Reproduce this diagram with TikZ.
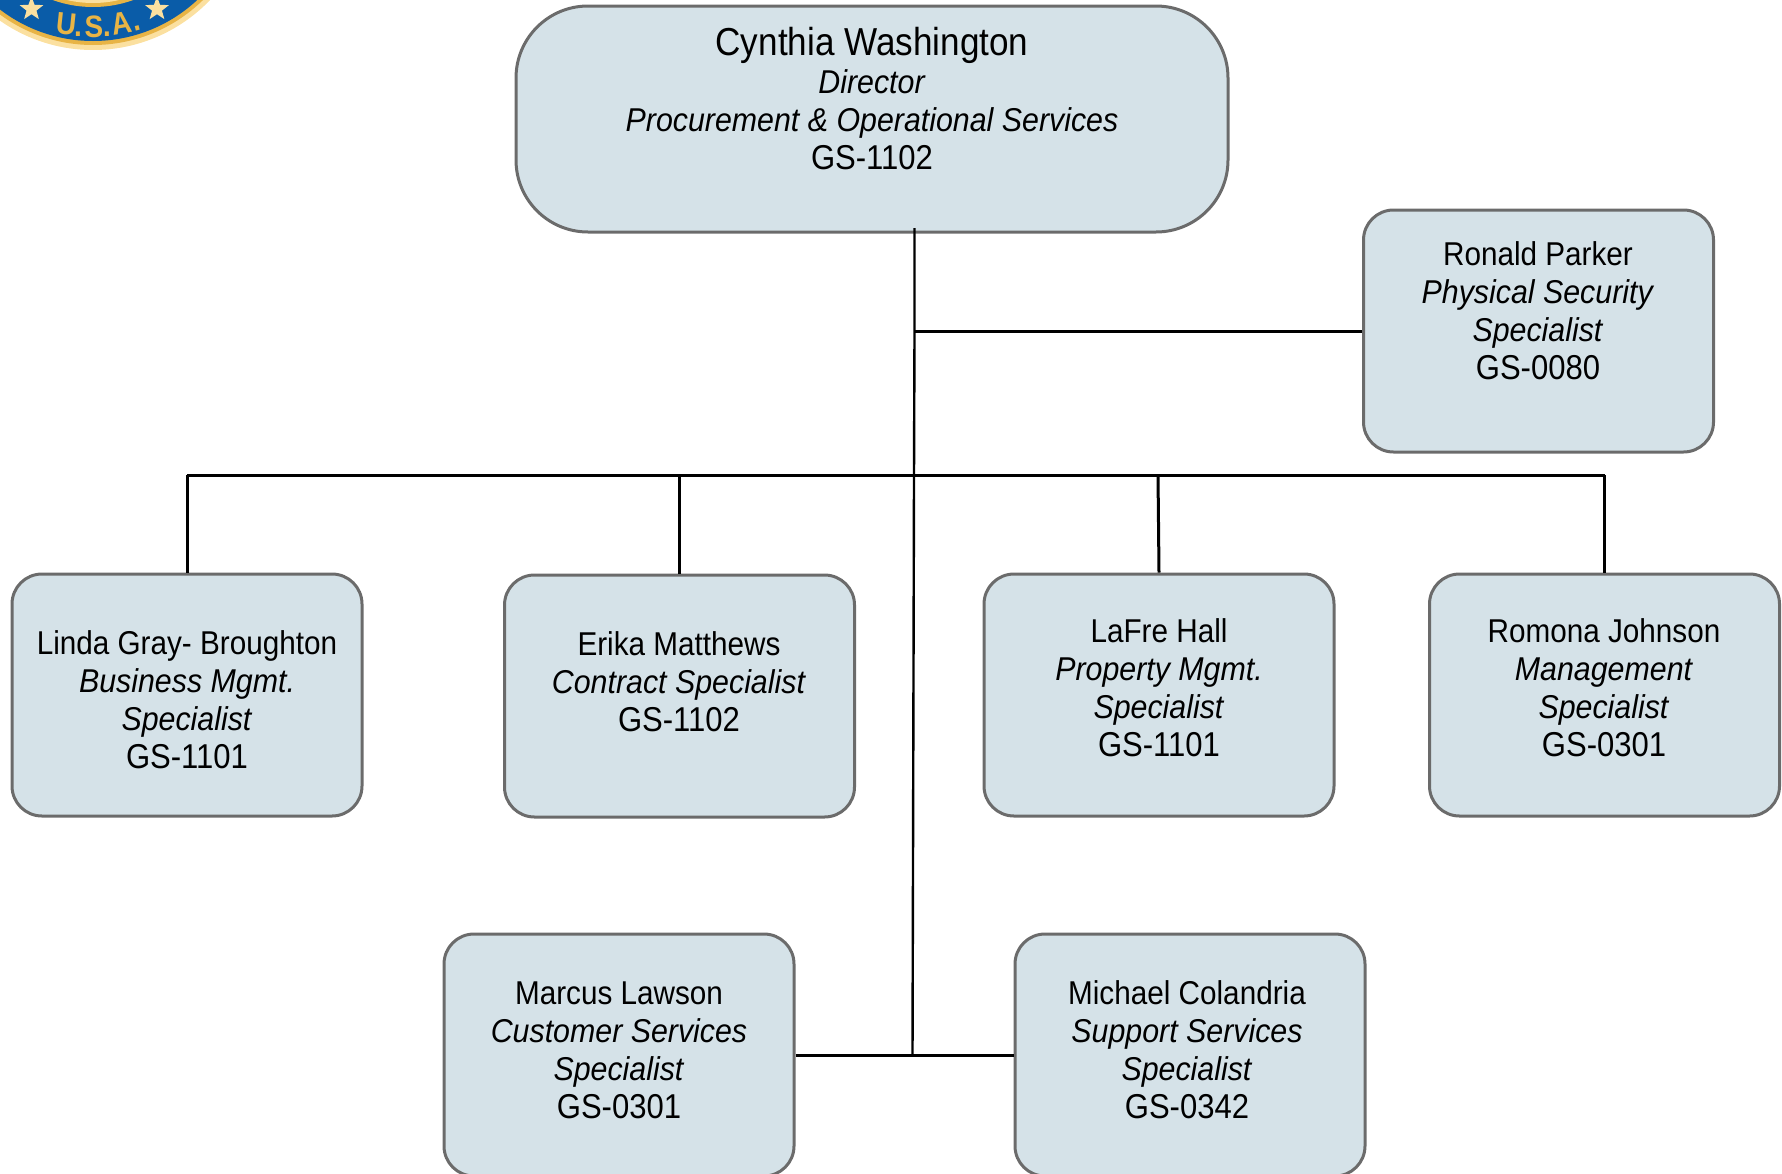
\documentclass[tikz,border=0pt]{standalone}
\usepackage{fontspec}
\setmainfont{Liberation Sans}[FakeStretch=0.9,ItalicFeatures={FakeStretch=0.92}]
\usetikzlibrary{shapes.geometric}
\definecolor{boxfill}{HTML}{D5E2E8}
\definecolor{boxline}{HTML}{6B6B6B}
\definecolor{sealblue}{HTML}{0A5CA8}
\definecolor{sealgold}{HTML}{E8B445}
\definecolor{sealcream}{HTML}{FBE0A0}
\tikzset{
  x=1pt,y=-1pt,
  pbox/.style={draw=boxline,line width=3pt,fill=boxfill,rounded corners=30pt,minimum width=350pt,minimum height=242pt,inner sep=0pt},
  topbox/.style={pbox,rounded corners=72pt,minimum width=712pt,minimum height=226pt},
  ptext/.style={align=center,inner sep=0pt,font=\fontsize{33}{38}\selectfont,text=black},
  conn/.style={draw=black,line width=3pt},
  trunk/.style={draw=black,line width=2.4pt},
  sealletter/.style={anchor=base,font=\fontsize{31}{31}\selectfont\bfseries,text=sealgold,inner sep=0pt},
  sealstar/.style={star,star points=5,star point ratio=2.4,fill=sealcream,minimum size=25pt,inner sep=0pt,draw=none}
}
\newcommand{\ro}[1]{\textit{#1}}
\newcommand{\gs}[1]{{\fontsize{34.5}{38}\selectfont #1}}
\begin{document}
\begin{tikzpicture}
\clip (0,0) rectangle (1782,1173);
% seal
\fill[sealcream] (93,-112) circle[radius=162];
\fill[sealgold] (93,-112) circle[radius=157];
\fill[sealblue] (93,-112) circle[radius=153];
\fill[sealgold] (93,-112) circle[radius=119];
\fill[sealcream] (93,-112) circle[radius=115];
\node[sealstar] (s1) at (31.5,9) {};
\node[sealstar] (s2) at (157,9) {};
\node[sealletter,rotate=-6] (lu) at (66,35) {U};
\node[sealletter] (dot1) at (78,36) {.};
\node[sealletter] (ls) at (94,37) {S};
\node[sealletter] (dot2) at (107,36) {.};
\node[sealletter,rotate=10] (la) at (123,34) {A};
\node[sealletter,rotate=14] (dot3) at (138,31) {.};
% boxes
\node[topbox] (top) at (872,119) {};
\node[pbox] (ronald) at (1538.5,331) {};
\node[pbox] (linda) at (187,695) {};
\node[pbox] (erika) at (679.5,696) {};
\node[pbox] (lafre) at (1159,695) {};
\node[pbox] (romona) at (1604.5,695) {};
\node[pbox] (marcus) at (619,1055) {};
\node[pbox] (michael) at (1190,1055) {};
% texts
\node[ptext,anchor=north] (top-t) at (872,27.5) {{\fontsize{39}{44}\selectfont Cynthia Washington}\\\ro{Director}\\\ro{Procurement \& Operational Services}\\\gs{GS-1102}};
\node[ptext] (ronald-t) at (1538,311) {Ronald Parker\\\ro{Physical Security}\\\ro{Specialist}\\\gs{GS-0080}};
\node[ptext] (linda-t) at (187,700) {Linda Gray- Broughton\\\ro{Business Mgmt.}\\\ro{Specialist}\\\gs{GS-1101}};
\node[ptext] (erika-t) at (679,682) {Erika Matthews\\\ro{Contract Specialist}\\\gs{GS-1102}};
\node[ptext] (lafre-t) at (1159,688) {LaFre Hall\\\ro{Property Mgmt.}\\\ro{Specialist}\\\gs{GS-1101}};
\node[ptext] (romona-t) at (1604,688) {Romona Johnson\\\ro{Management}\\\ro{Specialist}\\\gs{GS-0301}};
\node[ptext] (marcus-t) at (619,1050) {Marcus Lawson\\\ro{Customer Services}\\\ro{Specialist}\\\gs{GS-0301}};
\node[ptext] (michael-t) at (1187,1050) {Michael Colandria\\\ro{Support Services}\\\ro{Specialist}\\\gs{GS-0342}};
% connectors
\coordinate (tr0) at (914.5,228);
\coordinate (tr1) at (914.5,331);
\coordinate (tr2) at (914,475);
\coordinate (tr3) at (912.5,1055);
\coordinate (busL) at (187,475);
\coordinate (busE) at (679.5,475);
\coordinate (busH) at (1158,475);
\coordinate (busR) at (1604.5,475);
\draw[trunk] (tr0) -- (tr1) -- (tr2) -- (tr3);
\draw[conn] (tr1) -- (ronald.west);
\draw[conn] (busL) -- (busR);
\draw[conn] (busL) -- (linda.north);
\draw[conn] (busE) -- (erika.north);
\draw[conn] (busH) -- (lafre.north);
\draw[conn] (busR) -- (romona.north);
\draw[conn] (marcus.east) -- (michael.west);
\end{tikzpicture}
\end{document}
